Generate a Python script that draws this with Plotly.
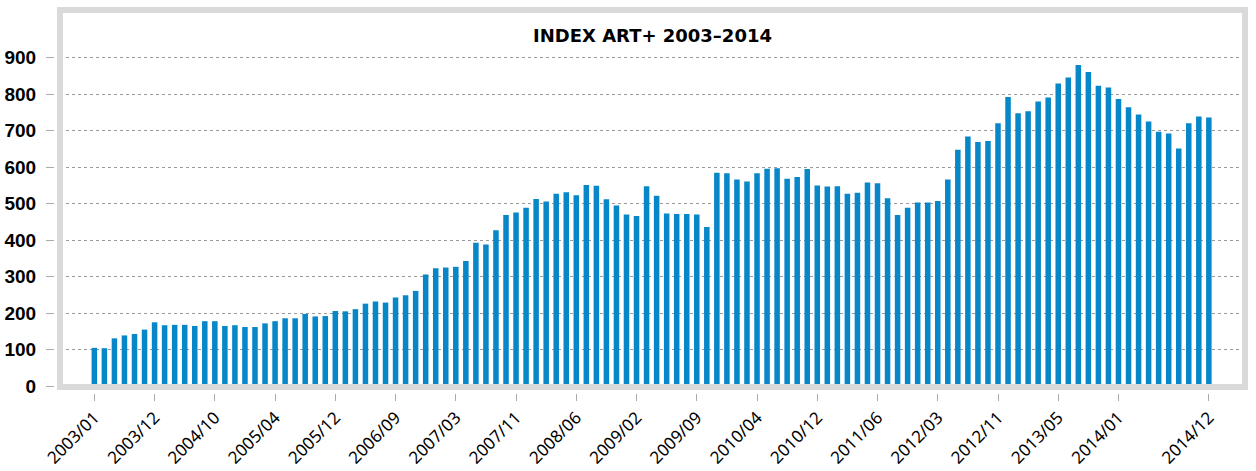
import plotly.graph_objects as go

# Index values (one bar per period)
index_values = [
    105, 104, 131, 139, 143, 155, 175, 167, 168, 168, 165, 178, 178, 165,
    167, 162, 162, 172, 178, 186, 186, 198, 191, 192, 206, 205, 211, 226,
    232, 229, 243, 249, 261, 306, 323, 325, 327, 343, 393, 388, 427, 469,
    476, 489, 513, 506, 527, 531, 523, 551, 549, 512, 495, 470, 466, 548,
    522, 473, 472, 472, 470, 436, 585, 583, 566, 561, 583, 596, 597, 568,
    573, 595, 550, 547, 548, 527, 530, 558, 556, 515, 469, 489, 503, 503,
    507, 566, 648, 684, 669, 672, 720, 792, 748, 753, 780, 791, 829, 846,
    880, 861, 823, 818, 787, 764, 744, 725, 697, 692, 651, 720, 739, 736,
]
bar_positions = list(range(len(index_values)))

tick_positions = [0, 6, 12, 18, 24, 30, 36, 42, 48, 54, 60, 66, 72, 78, 84,
                  90, 96, 102, 111]
tick_labels = ["2003/01", "2003/12", "2004/10", "2005/04", "2005/12",
               "2006/09", "2007/03", "2007/11", "2008/06", "2009/02",
               "2009/09", "2010/04", "2010/12", "2011/06", "2012/03",
               "2012/11", "2013/05", "2014/01", "2014/12"]
y_ticks = [0, 100, 200, 300, 400, 500, 600, 700, 800, 900]

title_text = "INDEX ART+ 2003–2014"

W, H = 1256, 471
# axis lines at x=54 / y=393, frame 60..1245 x 10..387
ML, MT = 54, 10
MR = W - 1245
MB = H - 393
PW = W - ML - MR
PH = H - MT - MB
x_dom0 = 6 / PW
y_dom0 = 6 / PH

fig = go.Figure()
fig.add_trace(go.Bar(
    x=bar_positions,
    y=index_values,
    marker=dict(color="#0787c8", line=dict(width=0)),
    hoverinfo="x+y",
))

fig.update_layout(
    width=W, height=H,
    margin=dict(l=ML, r=MR, t=MT, b=MB, autoexpand=False),
    paper_bgcolor="white",
    plot_bgcolor="white",
    bargap=0.45,
    showlegend=False,
    font=dict(family="Liberation Sans, Arial, sans-serif", color="black"),
    xaxis=dict(
        domain=[x_dom0, 1],
        anchor="free",
        position=0,
        automargin=False,
        range=[-3.42, 114.6],
        tickmode="array",
        tickvals=tick_positions,
        ticktext=tick_labels,
        tickangle=-45,
        ticks="outside",
        ticklen=7,
        tickwidth=1,
        tickcolor="#aaaaaa",
        tickfont=dict(size=17, color="black", family="Noto Sans, sans-serif"),
        showgrid=False,
        zeroline=False,
        showline=False,
    ),
    yaxis=dict(
        domain=[y_dom0, 1],
        anchor="free",
        position=0,
        automargin=False,
        range=[-2.3, 1030.6],
        tickmode="array",
        tickvals=y_ticks,
        ticks="outside",
        ticklen=8,
        tickwidth=1,
        tickcolor="#aaaaaa",
        ticklabelstandoff=6,
        tickfont=dict(size=19, color="black",
                      family="Liberation Sans, Arial, sans-serif",
                      weight="bold"),
        showgrid=True,
        gridcolor="#9a9a9a",
        gridwidth=1,
        griddash="dot",
        zeroline=False,
        showline=False,
    ),
    shapes=[dict(
        type="rect", xref="paper", yref="paper",
        x0=x_dom0, x1=1, y0=y_dom0, y1=1,
        line=dict(color="#dadada", width=6),
        fillcolor="rgba(0,0,0,0)",
        layer="above",
    )],
    annotations=[dict(
        text="<b>" + title_text + "</b>",
        xref="paper", yref="paper",
        x=(x_dom0 + 1) / 2, y=1 - (35 - MT) / PH,
        xanchor="center", yanchor="middle",
        showarrow=False,
        font=dict(family="DejaVu Sans, sans-serif", size=18, color="black"),
    )],
)

fig.write_html(
    "out.html",
    config={"displayModeBar": False},
    post_script="document.body.style.margin='0';"
                "document.body.style.overflow='hidden';",
)
